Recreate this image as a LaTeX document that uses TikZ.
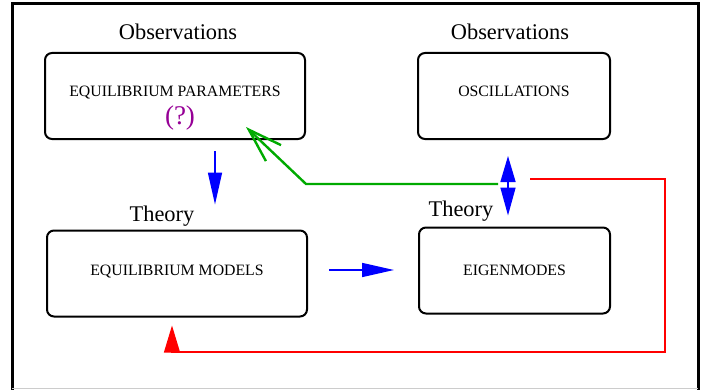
\documentclass[tikz,border=0pt]{standalone}
\usepackage{fontspec}
\setmainfont{Liberation Serif}
\usetikzlibrary{arrows.meta,calc,positioning}
\definecolor{flowblue}{RGB}{0,0,255}
\definecolor{fitgreen}{RGB}{0,170,0}
\definecolor{loopred}{RGB}{255,0,0}
\definecolor{query}{RGB}{150,0,150}
\tikzset{>=Latex,
  every node/.style={font=\fontsize{7.9}{9}\selectfont},
  box/.style={draw,rounded corners=3.5pt,line width=1pt,minimum height=43pt},
  lbl/.style={font=\fontsize{11.2}{13}\selectfont},
  blueflow/.style={draw=flowblue,line width=.8pt,-{Triangle[length=16pt,width=7pt]}},
  bothflow/.style={draw=flowblue,line width=.8pt,{Triangle[length=13pt,width=7.5pt]}-{Triangle[length=14pt,width=7.5pt]}},
  fitflow/.style={draw=fitgreen,line width=1.2pt,-{Straight Barb[length=17pt,width=11pt]}},
  backflow/.style={draw=loopred,line width=.6pt,-{Triangle[length=13.5pt,width=8pt]}}}

\begin{document}
\begin{tikzpicture}[x=.5pt,y=-.5pt]
\useasboundingbox (0,0) rectangle (706,390);
\draw[line width=1.5pt] (12,390)--(12,4)--(698,4)--(698,390);
\draw[gray!40,line width=.5pt] (12,388)--(698,388);
% boxes
\node[box,minimum width=130pt,text depth=5pt] (eqpar) at (175,96) {EQUILIBRIUM PARAMETERS};
\node[font=\fontsize{13.5}{15}\selectfont,text=query] (qm) at (180,118) {(?)};
\node[box,minimum width=96pt,text depth=5pt] (osc) at (514,96) {OSCILLATIONS};
\node[box,minimum width=130pt,text depth=3pt] (eqmod) at (177,273.5) {EQUILIBRIUM MODELS};
\node[box,minimum width=95.5pt] (eig) at (514.5,270.5) {EIGENMODES};
\node[lbl] (obsA) at (178,32) {Observations};
\node[lbl] (obsB) at (510,32) {Observations};
\node[lbl] (thA) at (162,216) {Theory};
\node[lbl] (thB) at (461,211) {Theory};
% arrows
\coordinate (d1) at ($(eqpar.south)+(40,11)$);
\coordinate (d2) at ($(eqmod.north)+(38,-25)$);
\draw[blueflow] (d1)--(d2);
\coordinate (r1) at ($(eqmod.east)+(21,-3.5)$);
\coordinate (r2) at ($(eig.west)+(-24,-.5)$);
\draw[blueflow] (r1)--(r2);
\coordinate (b1) at ($(osc.south)+(-6,16)$);
\coordinate (b2) at ($(eig.north)+(-6.5,-11)$);
\draw[bothflow] (b1)--(b2);
\coordinate (g0) at ($(osc.south)+(-16,44)$);
\coordinate (g2) at ($(eqpar.south east)+(-60,-13)$);
\draw[fitflow] (g0)--(eqpar.east |- g0)--(g2);
\coordinate (rs) at ($(osc.south)+(16,39)$);
\coordinate (rc) at (665,352);
\coordinate (rt) at ($(eqmod.south)+(-5,8)$);
\draw[backflow] (rs)-|(rc)-|(rt);
\end{tikzpicture}
\end{document}
